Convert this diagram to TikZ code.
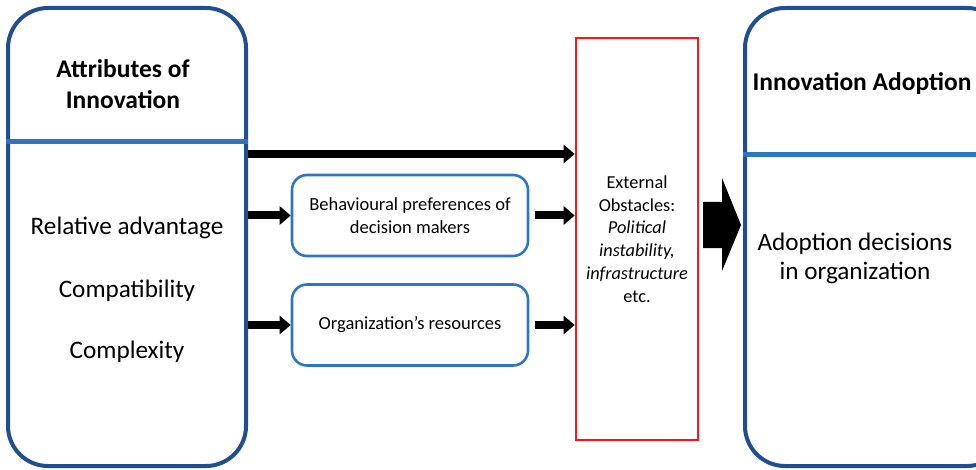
\documentclass[tikz,border=0pt]{standalone}
\usepackage{fontspec}
\setmainfont{Carlito}
\usetikzlibrary{arrows.meta,positioning}
\definecolor{navy}{HTML}{1F4E91}
\definecolor{midblue}{HTML}{2E75C6}
\definecolor{obsred}{HTML}{FF1414}
\tikzset{
  outer/.style={draw=navy, line width=4pt, rounded corners=40pt,
    minimum width=238pt, minimum height=458pt},
  inner/.style={draw=midblue, line width=2.6pt, rounded corners=15pt,
    minimum width=236pt, minimum height=81pt, align=center,
    font=\fontsize{18.5}{23}\selectfont},
  obst/.style={draw=obsred, line width=2.6pt, minimum width=122pt,
    minimum height=402pt, align=center, inner sep=0pt,
    font=\fontsize{18.3}{22.8}\selectfont},
  divider/.style={draw=midblue, line width=5pt},
  flow/.style={draw=black, line width=8pt, -{Triangle[length=11pt,width=18pt]}},
  head/.style={font=\fontsize{25.5}{31}\bfseries\selectfont, align=center},
  body/.style={font=\fontsize{25.2}{29}\selectfont, align=center}
}

\begin{document}
\begin{tikzpicture}[x=1pt, y=-1pt]
  \useasboundingbox (0,0) rectangle (976,470);
  \clip (0,0) rectangle (976,470);

  % the two outer columns
  \node[outer] (attr) at (127,237) {};
  \node[outer, minimum width=262pt] (adopt) at (876,237) {};
  \coordinate (attrcut) at (0,142);
  \coordinate (adoptcut) at (0,155);
  \draw[divider] (attr.west |- attrcut) -- (attr.east |- attrcut);
  \draw[divider] (adopt.west |- adoptcut) -- (adopt.east |- adoptcut);

  \node[head] (attrhead) at (123,84) {Attributes of\\Innovation};
  \node[body, anchor=base] (rel) at (127,235) {Relative advantage};
  \node[body, anchor=base] (compat) at (127,297) {Compatibility};
  \node[body, anchor=base] (complex) at (127,358) {Complexity};

  \node[head, anchor=base] (adopthead) at (862,91) {Innovation Adoption};
  \node[body] (decide) at (855,258) {Adoption decisions\\in organization};

  % mediating factors and the obstacle barrier
  \node[inner] (pref) at (410,215.5) {Behavioural preferences of\\decision makers};
  \node[inner] (res) at (410,325) {Organization’s resources};
  \node[obst] (barrier) at (637,239) {External\\Obstacles:\\\textit{Political}\\\textit{instability,}\\\textit{infrastructure}\\etc.};

  \coordinate (direct) at (0,154);
  \draw[flow] (attr.east |- direct) -- (barrier.west |- direct);
  \draw[flow] (attr.east |- pref) -- (pref.west);
  \draw[flow] (attr.east |- res) -- (res.west);
  \draw[flow, shorten <=6pt] (pref.east) -- (barrier.west |- pref);
  \draw[flow, shorten <=6pt] (res.east) -- (barrier.west |- res);

  % block arrow into the adoption column
  \coordinate (gate) at (703,225);
  \fill[black] (gate) ++(0,-23) -- ++(19,0) -- ++(0,-24) -- ++(19,47)
    -- ++(-19,46) -- ++(0,-23) -- ++(-19,0) -- cycle;
\end{tikzpicture}
\end{document}
